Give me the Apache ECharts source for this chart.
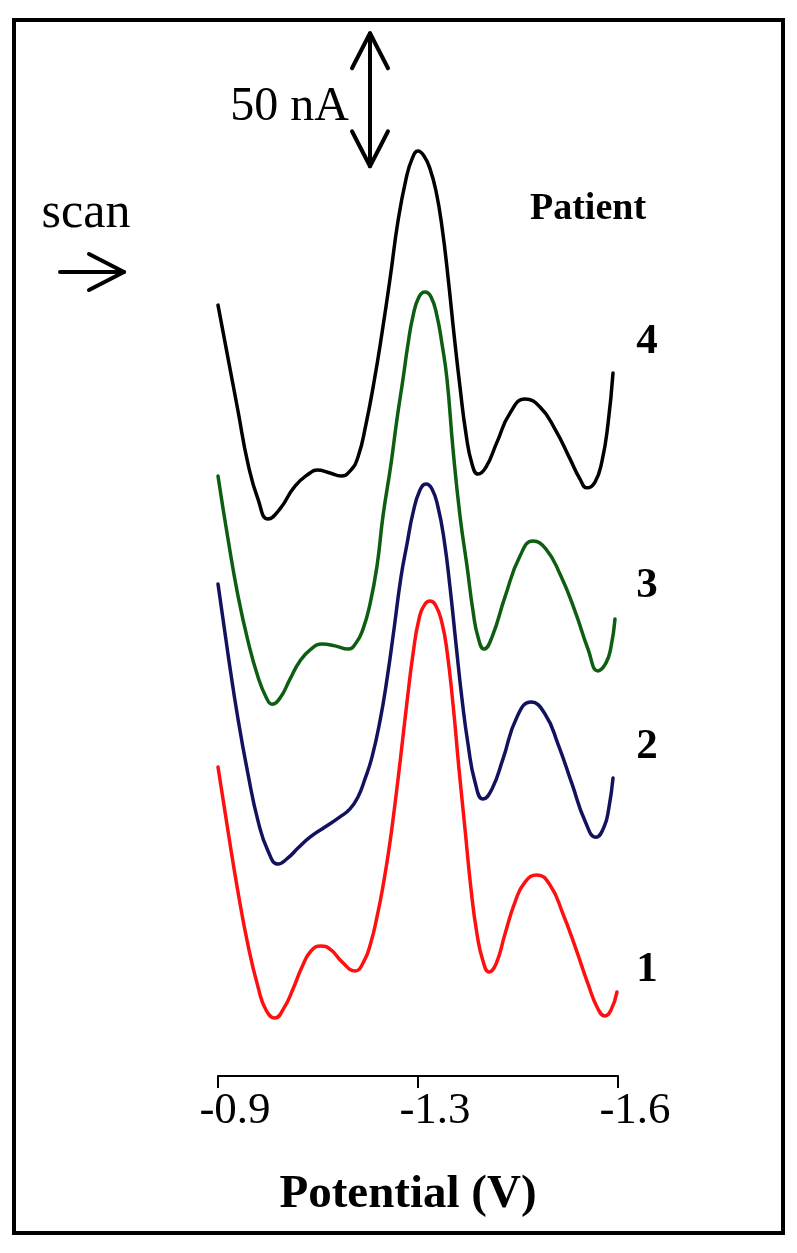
<!DOCTYPE html>
<html>
<head>
<meta charset="utf-8">
<script src="https://cdn.jsdelivr.net/npm/echarts@6/dist/echarts.min.js"></script>
<style>
html,body{margin:0;padding:0;background:#fff;}
#chart{width:797px;height:1253px;}
</style>
</head>
<body>
<div id="chart"></div>
<script>
// x: normalised scan position (0 = -0.9 V, 0.5 = -1.3 V, 1 = -1.6 V); y: current in nA (curves offset)
var tickLabels = ['-0.9', '-1.3', '-1.6'];
var patientLabels = ['1', '2', '3', '4'];
var scaleBarNA = [342, 392]; // 50 nA scale bar, nA

var patient4 = [[0,289.8],[0.025,269.9],[0.05,250.0],[0.075,230.1],[0.1,216.9],[0.125,209.4],[0.155,213.2],[0.1925,221.8],[0.23,226.7],[0.2475,227.8],[0.28,226.7],[0.3075,225.6],[0.33,227.4],[0.35,232.7],[0.37,245.1],[0.39,260.9],[0.41,279.3],[0.43,299.6],[0.45,321.4],[0.47,337.2],[0.485,344.7],[0.5,347.7],[0.515,345.9],[0.53,341.0],[0.545,332.7],[0.56,319.2],[0.575,300.4],[0.59,278.9],[0.605,259.0],[0.62,241.4],[0.635,230.1],[0.65,226.3],[0.67,228.9],[0.6975,238.3],[0.73,249.2],[0.7675,254.5],[0.805,251.5],[0.8425,243.2],[0.88,232.0],[0.905,224.4],[0.9225,221.1],[0.9425,223.3],[0.96,231.2],[0.975,245.1],[0.9875,264.3]];
var patient3 = [[0,225.6],[0.025,201.9],[0.05,180.5],[0.075,163.5],[0.1,150.0],[0.12,142.5],[0.135,139.8],[0.155,142.1],[0.18,149.2],[0.205,156.0],[0.2325,160.5],[0.26,162.4],[0.2925,161.7],[0.325,160.5],[0.345,162.8],[0.3625,168.0],[0.38,177.4],[0.3975,191.7],[0.4125,210.5],[0.4325,230.1],[0.4475,247.0],[0.4625,262.0],[0.475,275.2],[0.4875,285.7],[0.5025,292.9],[0.5175,294.7],[0.5325,292.9],[0.5475,285.7],[0.56,275.2],[0.5725,262.0],[0.5875,235.7],[0.605,210.5],[0.6225,191.7],[0.6375,174.8],[0.65,165.0],[0.665,160.5],[0.685,165.0],[0.7175,180.1],[0.755,195.5],[0.7875,201.1],[0.82,198.1],[0.855,188.7],[0.8925,174.8],[0.925,160.5],[0.95,152.3],[0.97,155.3],[0.9825,161.3],[0.9925,171.8]];
var patient2 = [[0,185.0],[0.025,158.6],[0.05,134.2],[0.075,113.5],[0.1,95.9],[0.125,84.6],[0.15,79.7],[0.175,82.0],[0.2,85.7],[0.23,89.8],[0.2675,93.6],[0.305,97.4],[0.33,100.4],[0.35,104.9],[0.3675,111.7],[0.385,119.9],[0.405,133.5],[0.4225,149.2],[0.44,168.0],[0.4575,187.6],[0.4725,200.0],[0.4875,211.7],[0.505,220.3],[0.52,222.6],[0.535,220.7],[0.55,213.9],[0.565,201.9],[0.58,183.8],[0.595,162.4],[0.61,141.7],[0.625,124.8],[0.6425,110.5],[0.6625,104.1],[0.685,107.9],[0.7125,119.2],[0.7475,135.0],[0.7825,140.6],[0.8175,136.1],[0.85,124.8],[0.885,109.8],[0.9175,95.9],[0.945,89.8],[0.965,93.6],[0.9775,101.1],[0.9875,112.0]];
var patient1 = [[0,116.2],[0.025,92.1],[0.05,69.2],[0.075,49.2],[0.1,33.5],[0.12,24.8],[0.1425,21.8],[0.165,25.6],[0.1875,32.7],[0.21,41.0],[0.2325,47.0],[0.2575,48.9],[0.2825,47.4],[0.31,42.9],[0.3425,39.5],[0.365,43.2],[0.3825,50.4],[0.3975,59.8],[0.4125,71.4],[0.4275,85.3],[0.4425,102.3],[0.4575,121.1],[0.4725,140.6],[0.4875,158.6],[0.5025,171.8],[0.5175,177.4],[0.53,178.6],[0.545,176.7],[0.56,170.3],[0.5725,159.8],[0.5875,139.8],[0.6025,115.4],[0.6175,92.9],[0.6325,70.3],[0.6475,53.4],[0.6625,43.2],[0.6775,39.1],[0.695,42.1],[0.7175,53.4],[0.7425,65.4],[0.7675,72.9],[0.7975,75.6],[0.83,71.8],[0.8625,60.9],[0.895,47.7],[0.925,34.6],[0.95,25.2],[0.9675,22.6],[0.9825,24.8],[0.9975,31.6]];

var SERIF = "'Liberation Serif','Times New Roman',serif";
var chart = echarts.init(document.getElementById('chart'), null, {renderer: 'canvas'});

function line(name, data, color) {
  return {
    name: name, type: 'line', data: data, smooth: 0.5, symbol: 'none',
    lineStyle: {color: color, width: 3.5, cap: 'round', join: 'round'}, animation: false, z: 3
  };
}

chart.setOption({
  backgroundColor: '#fff',
  animation: false,
  grid: {left: 218, right: 179, top: 12, bottom: 177, containLabel: false},
  xAxis: {
    type: 'value', min: 0, max: 1, interval: 0.5,
    axisLine: {show: true, lineStyle: {color: '#000', width: 2}},
    axisTick: {show: true, length: 12, lineStyle: {color: '#000', width: 2}},
    splitLine: {show: false},
    axisLabel: {
      color: '#000', fontFamily: SERIF, fontSize: 45, margin: 13,
      padding: [0, 0, 0, 34],
      formatter: function (v) { return tickLabels[Math.round(v / 0.5)]; }
    },
    name: 'Potential (V)', nameLocation: 'middle', nameGap: 95,
    nameTextStyle: {color: '#000', fontFamily: SERIF, fontSize: 47, fontWeight: 'bold', padding: [0, 20, 0, 0]}
  },
  yAxis: {type: 'value', min: 0, max: 400, show: false, splitLine: {show: false}},
  series: [
    line('Patient 1', patient1, '#ff1010'),
    line('Patient 2', patient2, '#12125e'),
    line('Patient 3', patient3, '#0e5e12'),
    line('Patient 4', patient4, '#000000')
  ]
});

// 50 nA scale bar placed through the y scale
var pTop = chart.convertToPixel({gridIndex: 0}, [0.38, scaleBarNA[1]]);
var pBot = chart.convertToPixel({gridIndex: 0}, [0.38, scaleBarNA[0]]);
var bx = pTop[0], ty = pTop[1], by = pBot[1];
var aw = 18, ah = 35;
var stroke = {stroke: '#000', lineWidth: 4, lineCap: 'round', lineJoin: 'round', fill: null};

var labelY = [970, 747, 586, 342];
var graphics = [
  {type: 'rect', shape: {x: 14, y: 20, width: 769, height: 1213}, style: {fill: null, stroke: '#000', lineWidth: 4}, z: 10},
  {type: 'line', shape: {x1: bx, y1: ty, x2: bx, y2: by}, style: stroke, z: 10},
  {type: 'polyline', shape: {points: [[bx - aw, ty + ah], [bx, ty], [bx + aw, ty + ah]]}, style: stroke, z: 10},
  {type: 'polyline', shape: {points: [[bx - aw, by - ah], [bx, by], [bx + aw, by - ah]]}, style: stroke, z: 10},
  {type: 'text', x: 349, y: 107, style: {text: '50 nA', fill: '#000', font: '48px ' + SERIF, textAlign: 'right', textVerticalAlign: 'middle'}, z: 10},
  {type: 'text', x: 86, y: 214, style: {text: 'scan', fill: '#000', font: '50px ' + SERIF, textAlign: 'center', textVerticalAlign: 'middle'}, z: 10},
  {type: 'line', shape: {x1: 60, y1: 272, x2: 124, y2: 272}, style: stroke, z: 10},
  {type: 'polyline', shape: {points: [[89, 254], [124, 272], [89, 290]]}, style: stroke, z: 10},
  {type: 'text', x: 588, y: 209, style: {text: 'Patient', fill: '#000', font: 'bold 38px ' + SERIF, textAlign: 'center', textVerticalAlign: 'middle'}, z: 10}
];
patientLabels.forEach(function (t, i) {
  graphics.push({type: 'text', x: 647, y: labelY[i], style: {text: t, fill: '#000', font: 'bold 43px ' + SERIF, textAlign: 'center', textVerticalAlign: 'middle'}, z: 10});
});
chart.setOption({graphic: graphics});
</script>
</body>
</html>
